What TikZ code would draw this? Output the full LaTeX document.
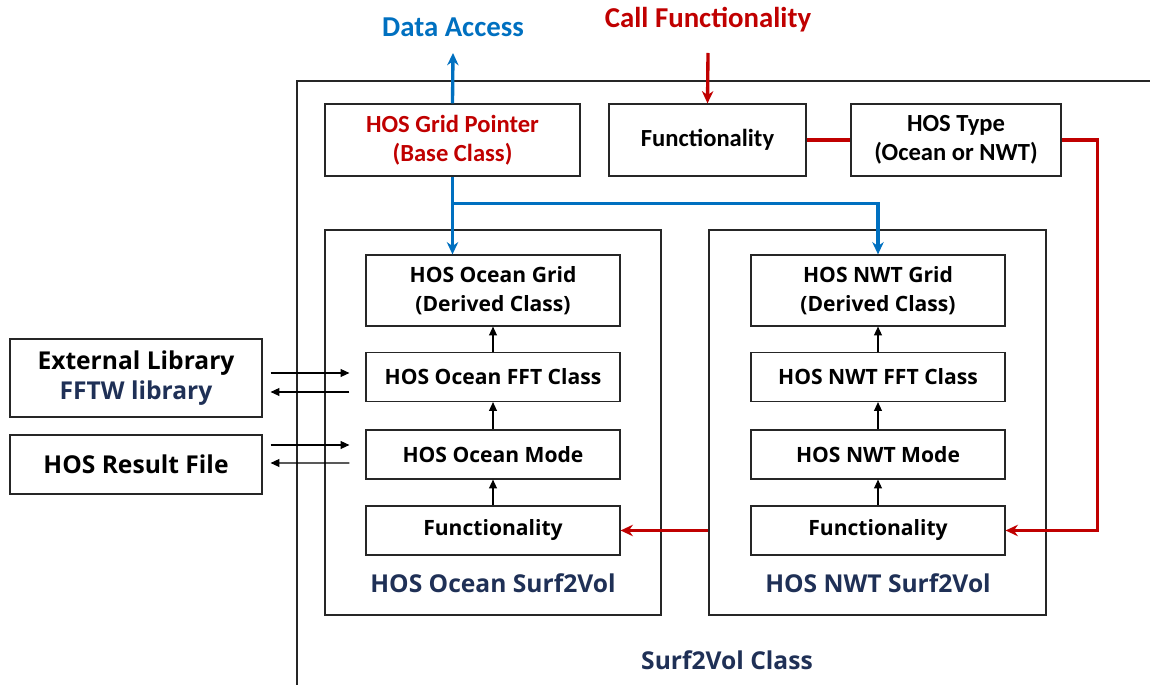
\documentclass[tikz,border=0pt]{standalone}
\usepackage{fontspec}
\setmainfont{Open Sans}
\newfontfamily\calib{Carlito}
\usetikzlibrary{arrows.meta}
\definecolor{accblue}{RGB}{0,112,192}
\definecolor{accred}{RGB}{192,0,0}
\definecolor{navy}{RGB}{31,48,86}
\begin{document}
\begin{tikzpicture}[x=0.02cm,y=-0.02cm,
    box/.style={draw=black!85,line width=0.7pt,inner sep=0pt,align=center},
    inbox/.style={box,minimum width=5.08cm,minimum height=0.98cm,
      font=\fontsize{12}{16.4}\selectfont\bfseries},
    topbox/.style={box,minimum height=1.44cm,
      font=\calib\fontsize{14}{16.4}\selectfont\bfseries},
    sidebox/.style={box,minimum width=5.04cm,
      font=\fontsize{14}{17}\selectfont\bfseries},
    frame/.style={draw=black!85,line width=0.7pt,inner sep=0pt},
    caption/.style={text=navy,font=\fontsize{14}{17}\selectfont\bfseries},
    flow/.style={line width=0.6pt,-{Triangle[length=5pt,width=4.5pt]}},
    blueline/.style={draw=accblue,line width=1.9pt},
    redline/.style={draw=accred,line width=1.9pt},
    tip/.style={-{Stealth[length=7pt,width=6.5pt]}}]
  \useasboundingbox (0,0) rectangle (1150,685);
  % outer class frame
  \draw[black!85,line width=0.7pt] (297,685) -- (297,81) -- (1150,81);
  \node[caption] (s2v) at (727,660) {Surf2Vol Class};
  % top row
  \node[text=accblue,font=\calib\fontsize{16.4}{18}\selectfont\bfseries] (dataacc) at (453,27) {Data Access};
  \node[text=accred,font=\calib\fontsize{16.4}{18}\selectfont\bfseries] (callf) at (708,20) {Call Functionality};
  \node[topbox,minimum width=5.1cm,text=accred] (gridptr) at (452.5,140) {HOS Grid Pointer\\(Base Class)};
  \node[topbox,minimum width=3.94cm] (topfunc) at (707.5,140) {Functionality};
  \node[topbox,minimum width=4.2cm] (hostype) at (956,140) {HOS Type\\(Ocean or NWT)};
  \coordinate (dataout) at (453,53);
  \coordinate (callin) at (708,53);
  % Surf2Vol containers
  \node[frame,minimum width=6.72cm,minimum height=7.7cm] (ocean-box) at (493,422.5) {};
  \node[frame,minimum width=6.74cm,minimum height=7.7cm] (nwt-box) at (877.5,422.5) {};
  \node[caption] (ocean-cap) at (493,583) {HOS Ocean Surf2Vol};
  \node[caption] (nwt-cap) at (878,583) {HOS NWT Surf2Vol};
  % ocean side
  \node[inbox,minimum height=1.42cm] (ocean-grid) at (493,290.5) {HOS Ocean Grid\\(Derived Class)};
  \node[inbox] (ocean-fft) at (493,377) {HOS Ocean FFT Class};
  \node[inbox] (ocean-mode) at (493,454.5) {HOS Ocean Mode};
  \node[inbox] (ocean-func) at (493,530.5) {Functionality};
  % nwt side
  \node[inbox,minimum height=1.42cm] (nwt-grid) at (878,290.5) {HOS NWT Grid\\(Derived Class)};
  \node[inbox] (nwt-fft) at (878,377) {HOS NWT FFT Class};
  \node[inbox] (nwt-mode) at (878,454.5) {HOS NWT Mode};
  \node[inbox] (nwt-func) at (878,530.5) {Functionality};
  % outside
  \node[sidebox,minimum height=1.56cm] (extlib) at (136,378) {External Library\\\textcolor{navy}{FFTW library}};
  \node[sidebox,minimum height=1.18cm] (result) at (136,464.5) {HOS Result File};
  % connectors
  \foreach \s in {ocean,nwt} {
    \draw[flow] (\s-func) -- (\s-mode);
    \draw[flow] (\s-mode) -- (\s-fft);
    \draw[flow] (\s-fft) -- (\s-grid);
  }
  \draw[flow] ([shift={(8,-5)}]extlib.east) -- ([shift={(-16,-4)}]ocean-fft.west);
  \draw[flow] ([shift={(-16,15)}]ocean-fft.west) -- ([shift={(8,14)}]extlib.east);
  \draw[flow] ([shift={(8,-19.5)}]result.east) -- ([shift={(-16,-9.5)}]ocean-mode.west);
  \draw[flow] ([shift={(-16,8.5)}]ocean-mode.west) -- ([shift={(8,-1.5)}]result.east);
  \draw[blueline,tip] (gridptr.north) -- (dataout);
  \draw[blueline,tip] (gridptr.south) -- (gridptr.south |- ocean-grid.north);
  \draw[blueline,tip] (gridptr.south) -- ++(0,27) -| (nwt-grid.north);
  \draw[redline,tip] (callin) -- (topfunc.north);
  \draw[redline] (topfunc.east) -- (hostype.west);
  \draw[redline,tip] (hostype.east) -- ++(36,0) |- (nwt-func.east);
  \draw[redline,tip] (nwt-box.west |- nwt-func.west) -- (ocean-func.east);
\end{tikzpicture}
\end{document}
